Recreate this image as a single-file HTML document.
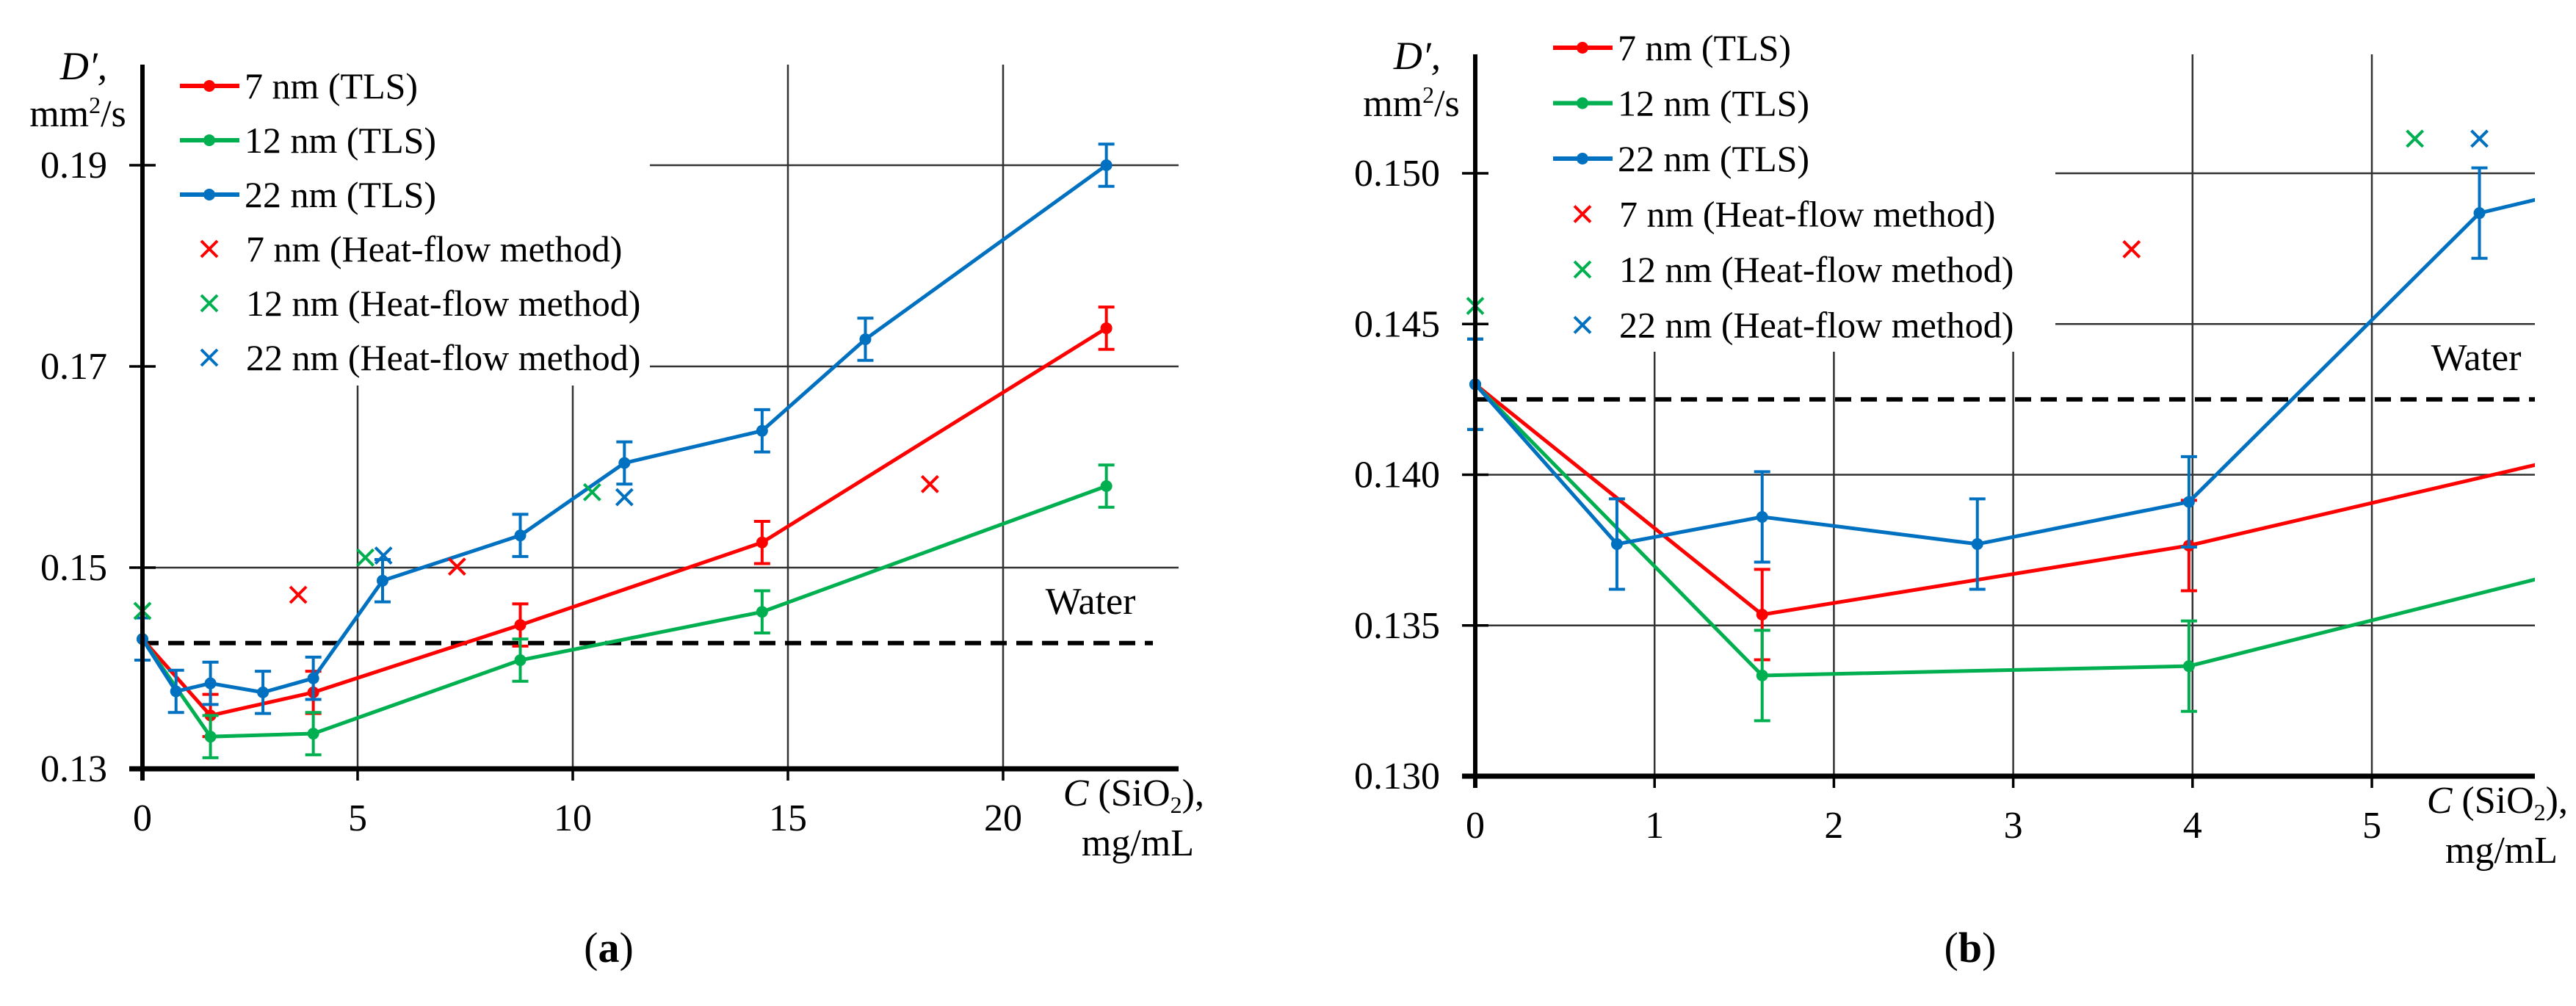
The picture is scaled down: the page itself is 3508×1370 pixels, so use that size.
<!DOCTYPE html>
<html><head><meta charset="utf-8">
<style>
html,body{margin:0;padding:0;background:#fff;}
svg{display:block;}
svg text, svg tspan{font-family:"Liberation Serif","Times New Roman",serif !important;}
</style></head>
<body>
<svg id="fig" width="3508" height="1370" viewBox="0 0 3508 1370" xmlns="http://www.w3.org/2000/svg" style="font-family:'Liberation Serif',serif">
<g id="chartA"></g>
<g id="chartB"></g>
<text x="829" y="1310" font-size="58" text-anchor="middle">(<tspan font-weight="bold">a</tspan>)</text>
<text x="2683" y="1310" font-size="58" text-anchor="middle">(<tspan font-weight="bold">b</tspan>)</text>
</svg>
<script>
// ---- Panel (a) data ----
const aX7 = [0, 1.58, 3.97, 8.78, 14.4, 22.4];
const aY7 = [0.1429, 0.1353, 0.1376, 0.1443, 0.1525, 0.1738];
const aX12 = [0, 1.58, 3.97, 8.78, 14.4, 22.4];
const aY12 = [0.1429, 0.1332, 0.1335, 0.1408, 0.1456, 0.1581];
const aX22 = [0, 0.78, 1.58, 2.8, 3.97, 5.58, 8.78, 11.2, 14.4, 16.8, 22.4];
const aY22 = [0.1429, 0.1377, 0.1385, 0.1376, 0.1390, 0.1487, 0.1532, 0.1604, 0.1636, 0.1727, 0.1900];
const aErr = 0.0021;
const aHX7 = [3.62, 7.31, 18.3];
const aHY7 = [0.1473, 0.1501, 0.1583];
const aHX12 = [0, 5.18, 10.45];
const aHY12 = [0.1457, 0.1510, 0.1575];
const aHX22 = [5.6, 11.2];
const aHY22 = [0.1512, 0.1570];
const aXTicks = [0, 5, 10, 15, 20];
const aYTicks = ["0.13", "0.15", "0.17", "0.19"];
const aWater = 0.1425;
// ---- Panel (b) data ----
const bX7 = [0, 1.6, 3.98, 8.78];
const bY7 = [0.1430, 0.13536, 0.13765, 0.1443];
const bX12 = [0, 1.6, 3.98, 8.78];
const bY12 = [0.1430, 0.13334, 0.13365, 0.1408];
const bX22 = [0, 0.79, 1.6, 2.8, 3.98, 5.6, 8.78];
const bY22 = [0.1430, 0.1377, 0.1386, 0.1377, 0.1391, 0.14868, 0.1532];
const bErr = 0.0015;
const bHX7 = [3.66];
const bHY7 = [0.14748];
const bHX12 = [0, 5.24];
const bHY12 = [0.1456, 0.15115];
const bHX22 = [5.6];
const bHY22 = [0.15115];
const bXTicks = [0, 1, 2, 3, 4, 5];
const bYTicks = ["0.130", "0.135", "0.140", "0.145", "0.150"];
const bWater = 0.1425;

const NS = "http://www.w3.org/2000/svg";
const RED = "#ff0000", GREEN = "#00b050", BLUE = "#0070c0";
function mk(parent, tag, attrs){
  const e = document.createElementNS(NS, tag);
  for (const k in attrs) e.setAttribute(k, attrs[k]);
  if (tag === "text") e.style.fontFamily = '"Liberation Serif", serif';
  parent.appendChild(e);
  return e;
}

function drawChart(g, cfg){
  const sx = v => cfg.x0 + (v - cfg.xmin) * cfg.ux;
  const sy = v => cfg.y0 - (v - cfg.ymin) * cfg.uy;
  const clipId = cfg.id + "clip";
  const defs = mk(g, "defs", {});
  const cp = mk(defs, "clipPath", {id: clipId});
  mk(cp, "rect", {x: cfg.x0 - 40, y: 0, width: cfg.xEnd - cfg.x0 + 40, height: 1200});
  cfg.xTicks.forEach(t => {
    if (t === 0) return;
    const top = t < cfg.gridSplitX ? cfg.vgridTopLow : cfg.top;
    const gl = mk(g, "line", {x1: sx(t), x2: sx(t), y1: top, y2: cfg.y0, stroke: "#333", "stroke-width": 2.5});
    
    
  });
  cfg.yTicks.forEach((lab, i) => {
    const v = parseFloat(lab);
    if (i === 0) return;
    const left = v > cfg.gridSplitY ? cfg.hgridLeftHigh : cfg.x0;
    const gl = mk(g, "line", {x1: left, x2: cfg.xEnd, y1: sy(v), y2: sy(v), stroke: "#333", "stroke-width": 2.5});
    
    
  });
  const wl = mk(g, "line", {x1: cfg.x0, x2: cfg.waterEnd, y1: sy(cfg.water), y2: sy(cfg.water), stroke: "#000", "stroke-width": 6, "stroke-dasharray": "22 13"});
  
  
  const wt = mk(g, "text", {x: cfg.waterLabelX, y: sy(cfg.water) - 40, "font-size": 52, "text-anchor": "middle"});
  wt.textContent = "Water";
  
  
  const series = [
    [cfg.X7, cfg.Y7, RED, "series-7nm-tls"],
    [cfg.X12, cfg.Y12, GREEN, "series-12nm-tls"],
    [cfg.X22, cfg.Y22, BLUE, "series-22nm-tls"]
  ];
  const sg = mk(g, "g", {"clip-path": "url(#" + clipId + ")"});
  series.forEach(([xs, ys, col, name]) => {
    const grp = mk(sg, "g", {});
    
    
    const pts = xs.map((x, i) => sx(x) + "," + sy(ys[i])).join(" ");
    mk(grp, "polyline", {points: pts, fill: "none", stroke: col, "stroke-width": 5, "stroke-linejoin": "round"});
    xs.forEach((x, i) => {
      if (x > cfg.xShowMax) return;
      const cx = sx(x), cy = sy(ys[i]), e = cfg.err * cfg.uy;
      const eb = mk(grp, "path", {d: `M${cx},${cy-e}V${cy+e}M${cx-11},${cy-e}H${cx+11}M${cx-11},${cy+e}H${cx+11}`, stroke: col, "stroke-width": 4, fill: "none"});
      
      
      const pt = mk(grp, "circle", {cx: cx, cy: cy, r: 8, fill: col});
      
      
    });
  });
  const hf = [
    [cfg.HX7, cfg.HY7, RED],
    [cfg.HX12, cfg.HY12, GREEN],
    [cfg.HX22, cfg.HY22, BLUE]
  ];
  hf.forEach(([xs, ys, col]) => {
    xs.forEach((x, i) => {
      const cx = sx(x), cy = sy(ys[i]), s = 11;
      const c = mk(g, "path", {d: `M${cx-s},${cy-s}L${cx+s},${cy+s}M${cx+s},${cy-s}L${cx-s},${cy+s}`, stroke: col, "stroke-width": 4, fill: "none"});
      
      
    });
  });
  const ya = mk(g, "line", {x1: cfg.x0, x2: cfg.x0, y1: cfg.top, y2: cfg.y0 + 16, stroke: "#000", "stroke-width": 6});
  
  
  const xa = mk(g, "line", {x1: cfg.x0 - 18, x2: cfg.xEnd, y1: cfg.y0, y2: cfg.y0, stroke: "#000", "stroke-width": 7});
  
  
  cfg.yTicks.forEach(lab => {
    const v = parseFloat(lab), y = sy(v);
    mk(g, "line", {x1: cfg.x0 - 18, x2: cfg.x0 + 18, y1: y, y2: y, stroke: "#000", "stroke-width": 3.5});
    const t = mk(g, "text", {x: cfg.x0 - 48, y: y + 17, "font-size": 52, "text-anchor": "end"});
    t.textContent = lab;
    
    
  });
  cfg.xTicks.forEach(v => {
    const x = sx(v);
    mk(g, "line", {x1: x, x2: x, y1: cfg.y0, y2: cfg.y0 + 16, stroke: "#000", "stroke-width": 3.5});
    const t = mk(g, "text", {x: x, y: cfg.y0 + 84, "font-size": 52, "text-anchor": "middle"});
    t.textContent = String(v);
    
    
  });
  const yt1 = mk(g, "text", {x: cfg.yTitleX, y: cfg.top + 20, "font-size": 54, "text-anchor": "middle", "font-style": "italic"});
  yt1.textContent = "D′,";
  
  
  const yt2 = mk(g, "text", {x: cfg.yTitleX - 8, y: cfg.top + 84, "font-size": 52, "text-anchor": "middle"});
  yt2.innerHTML = 'mm<tspan font-size="32" dy="-18">2</tspan><tspan dy="18">/s</tspan>';
  
  
  const xt1 = mk(g, "text", {x: cfg.xTitleR, y: cfg.y0 + 50, "font-size": 52, "text-anchor": "end"});
  xt1.innerHTML = '<tspan font-style="italic">C</tspan> (SiO<tspan font-size="32" dy="10">2</tspan><tspan dy="-10">),</tspan>';
  
  
  const xt2 = mk(g, "text", {x: cfg.xTitleR - 14, y: cfg.y0 + 118, "font-size": 52, "text-anchor": "end"});
  xt2.textContent = "mg/mL";
  
  
  const leg = mk(g, "g", {});
  
  
  const entries = [
    ["7 nm (TLS)", RED, 0], ["12 nm (TLS)", GREEN, 0], ["22 nm (TLS)", BLUE, 0],
    ["7 nm (Heat-flow method)", RED, 1], ["12 nm (Heat-flow method)", GREEN, 1], ["22 nm (Heat-flow method)", BLUE, 1]
  ];
  entries.forEach(([lab, col, kind], i) => {
    const y = cfg.legY + i * cfg.legDy;
    const eg = mk(leg, "g", {});
    
    
    const mx = cfg.legX + 40;
    if (kind === 0) {
      mk(eg, "line", {x1: cfg.legX, x2: cfg.legX + 81, y1: y, y2: y, stroke: col, "stroke-width": 6});
      mk(eg, "circle", {cx: mx, cy: y, r: 8, fill: col});
    } else {
      const s = 11;
      mk(eg, "path", {d: `M${mx-s},${y-s}L${mx+s},${y+s}M${mx+s},${y-s}L${mx-s},${y+s}`, stroke: col, "stroke-width": 4});
    }
    const t = mk(eg, "text", {x: cfg.legX + (kind ? 90 : 88), y: y + 17, "font-size": 50});
    t.textContent = lab;
  });
}

drawChart(document.getElementById("chartA"), {
  id: "a", x0: 194, xmin: 0, ux: 58.6, y0: 1047, ymin: 0.13, uy: 13700,
  top: 88, xEnd: 1605, xShowMax: 100,
  gridSplitX: 13, vgridTopLow: 525, gridSplitY: 0.16, hgridLeftHigh: 885,
  water: aWater, waterEnd: 1570, waterLabelX: 1485,
  X7: aX7, Y7: aY7, X12: aX12, Y12: aY12, X22: aX22, Y22: aY22, err: aErr,
  HX7: aHX7, HY7: aHY7, HX12: aHX12, HY12: aHY12, HX22: aHX22, HY22: aHY22,
  xTicks: aXTicks, yTicks: aYTicks,
  yTitleX: 114, xTitleR: 1640,
  legX: 245, legY: 117, legDy: 74
});
drawChart(document.getElementById("chartB"), {
  id: "b", x0: 2009, xmin: 0, ux: 244.2, y0: 1057, ymin: 0.13, uy: 41050,
  top: 74, xEnd: 3452, xShowMax: 5.9,
  gridSplitX: 3.5, vgridTopLow: 479, gridSplitY: 0.1425, hgridLeftHigh: 2799,
  water: bWater, waterEnd: 3452, waterLabelX: 3372,
  X7: bX7, Y7: bY7, X12: bX12, Y12: bY12, X22: bX22, Y22: bY22, err: bErr,
  HX7: bHX7, HY7: bHY7, HX12: bHX12, HY12: bHY12, HX22: bHX22, HY22: bHY22,
  xTicks: bXTicks, yTicks: bYTicks,
  yTitleX: 1930, xTitleR: 3497,
  legX: 2115, legY: 65, legDy: 75.5
});
</script>
</body></html>
